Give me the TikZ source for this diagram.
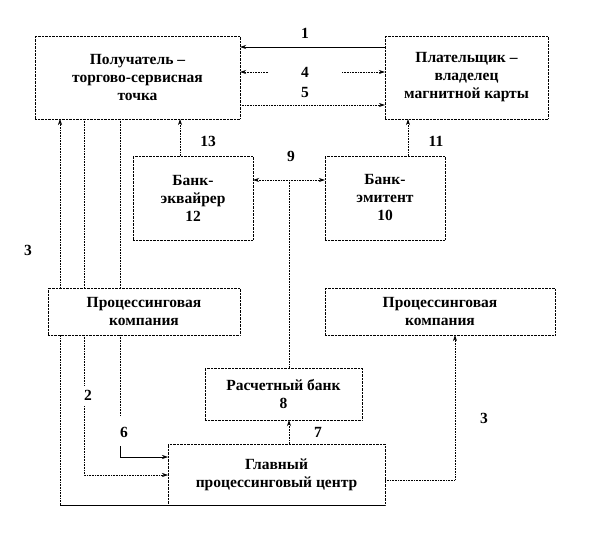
\documentclass[tikz,border=0pt]{standalone}
\usepackage{fontspec}
\setmainfont{Liberation Serif}
\usetikzlibrary{arrows.meta}
\begin{document}
\begin{tikzpicture}[x=1pt,y=-1pt,
  box/.style={draw,fill=white,densely dotted,align=center,font=\fontsize{15.5}{18}\selectfont\bfseries,inner sep=0pt},
  lab/.style={font=\fontsize{15.5}{18}\selectfont\bfseries,inner sep=1pt},
  ln/.style={line width=0.6pt},
  dl/.style={line width=0.6pt,densely dotted},
  >={Stealth[length=6pt,width=4pt]}]
\useasboundingbox (0,0) rectangle (612,540);
\node[box,minimum width=205,minimum height=83] (rec) at (137.5,77.5) {Получатель –\\торгово-сервисная\\точка};
\node[box,minimum width=163,minimum height=83] (pay) at (466.5,77.5) {Плательщик –\\владелец\\магнитной карты};
\node[box,minimum width=120,minimum height=84] (acq) at (193,198) {Банк-\\эквайрер\\12};
\node[box,minimum width=120,minimum height=84] (iss) at (385,198) {Банк-\\эмитент\\10};
\coordinate (c9) at (289,180);
\coordinate (b60) at (60,505);
\coordinate (b84) at (84,475);
\coordinate (b120) at (120,457);
\coordinate (r455) at (455,480);
\coordinate (g4l) at (268,72);
\coordinate (g4r) at (342,72);
\draw[dl] (c9) -- (289,368);
\draw[dl,->] (b60) -- (60,119);
\draw[dl] (84,119) -- (84,386); \draw[dl,->] (84,406) -- (b84) -- (168,475);
\draw[dl] (120,119) -- (120,416); \draw[ln,->] (120,446) -- (b120) -- (168,457);
\draw[ln] (b60) -- (168,505);
\node[box,minimum width=192,minimum height=47] (pcl) at (144,311.5) {Процессинговая\\компания};
\node[box,minimum width=230,minimum height=47] (pcr) at (440,311.5) {Процессинговая\\компания};
\node[box,minimum width=157,minimum height=52] (set) at (283.5,394) {Расчетный банк\\8};
\node[box,minimum width=217,minimum height=61] (main) at (276.5,474.5) {Главный\\процессинговый центр};
\draw[ln] (main.south west) -- (main.south east);
\draw[ln,->] (pay.west|-0,47) -- (rec.east|-0,47);
\node[lab] at (305,33) {1};
\draw[dl,->] (g4l) -- (rec.east|-g4l);
\draw[dl,->] (g4r) -- (pay.west|-g4r);
\node[lab] at (305,72) {4};
\draw[dl,->] (rec.east|-0,105) -- (pay.west|-0,105);
\node[lab] at (305,93) {5};
\draw[dl,->] (acq.north-|180,0) -- (rec.south-|180,0);
\node[lab] at (208,141) {13};
\draw[dl,->] (iss.north-|408,0) -- (pay.south-|408,0);
\node[lab] at (436,141) {11};
\draw[dl,<->] (acq.east|-c9) -- (iss.west|-c9);
\node[lab] at (291,156) {9};
\draw[dl,->] (main.north-|289,0) -- (set.south-|289,0);
\node[lab] at (318,432) {7};
\draw[dl,->] (main.east|-r455) -- (r455) -- (pcr.south-|r455);
\node[lab] at (484,418) {3};
\node[lab] at (28,250) {3};
\node[lab] at (88,395) {2};
\node[lab] at (124,432) {6};
\end{tikzpicture}
\end{document}
